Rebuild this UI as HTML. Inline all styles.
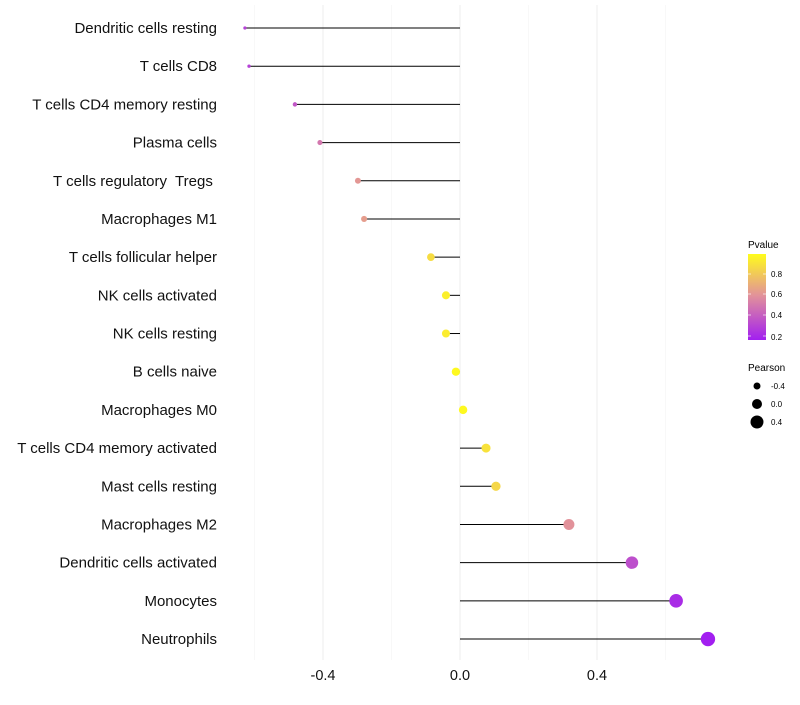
<!DOCTYPE html>
<html><head><meta charset="utf-8"><style>
body{margin:0;background:#fff;font-family:"Liberation Sans",sans-serif}
</style></head><body>
<svg id="chart" width="800" height="700" xmlns="http://www.w3.org/2000/svg" font-family="Liberation Sans, sans-serif">
<g id="grid"></g><g id="marks"></g><g id="labels"></g>
<g>
<text x="748" y="248" font-size="10" fill="#000">Pvalue</text>
<defs><linearGradient id="pg" x1="0" y1="1" x2="0" y2="0">
<stop offset="0" stop-color="#a21ff0"/><stop offset="0.52" stop-color="#e2929a"/><stop offset="1" stop-color="#fffc1c"/></linearGradient></defs>
<rect x="748" y="254" width="18" height="86" fill="url(#pg)"/>
<g stroke="#fff" stroke-width="0.8" opacity="0.8">
<line x1="748" x2="751" y1="274" y2="274"/><line x1="763" x2="766" y1="274" y2="274"/>
<line x1="748" x2="751" y1="294" y2="294"/><line x1="763" x2="766" y1="294" y2="294"/>
<line x1="748" x2="751" y1="315" y2="315"/><line x1="763" x2="766" y1="315" y2="315"/>
<line x1="748" x2="751" y1="336" y2="336"/><line x1="763" x2="766" y1="336" y2="336"/>
</g>
<g font-size="8" fill="#000">
<text x="771" y="277">0.8</text><text x="771" y="297">0.6</text><text x="771" y="318">0.4</text><text x="771" y="340">0.2</text></g>
<text x="748" y="371" font-size="10" fill="#000">Pearson</text>
<circle cx="757" cy="386" r="3.5"/><circle cx="757" cy="404" r="5"/><circle cx="757" cy="422" r="6.5"/>
<g font-size="8"><text x="771" y="389">-0.4</text><text x="771" y="407">0.0</text><text x="771" y="425">0.4</text></g>
</g>
</svg>
<script>
const categories=["Dendritic cells resting","T cells CD8","T cells CD4 memory resting","Plasma cells","T cells regulatory  Tregs ","Macrophages M1","T cells follicular helper","NK cells activated","NK cells resting","B cells naive","Macrophages M0","T cells CD4 memory activated","Mast cells resting","Macrophages M2","Dendritic cells activated","Monocytes","Neutrophils"];
const pearson=[-0.628,-0.616,-0.482,-0.409,-0.298,-0.280,-0.085,-0.041,-0.041,-0.012,0.009,0.076,0.105,0.318,0.502,0.631,0.724];
const pvalue=[0.3,0.3,0.38,0.5,0.62,0.64,0.88,0.95,0.94,0.99,0.99,0.9,0.86,0.6,0.35,0.22,0.17];
const xTicks=[-0.4,0.0,0.4];
const xMinor=[-0.6,-0.2,0.2,0.6];
const NS="http://www.w3.org/2000/svg";
const xs=v=>460+v*342.5;
const ys=i=>28+i*38.19;
function col(p){
  const stops=[[0.17,[162,31,240]],[0.6,[226,146,154]],[1.0,[255,252,28]]];
  p=Math.max(0.17,Math.min(1,p));
  for(let k=0;k<2;k++){const a=stops[k],b=stops[k+1];if(p<=b[0]){const t=(p-a[0])/(b[0]-a[0]);return "rgb("+a[1].map((c,j)=>Math.round(c+(b[1][j]-c)*t)).join(",")+")";}}
  return "rgb(255,252,28)";
}
const rs=v=>1.6+(v+0.63)/1.36*5.6;
function mk(tag,attrs,parent){const e=document.createElementNS(NS,tag);for(const k in attrs)e.setAttribute(k,attrs[k]);document.getElementById(parent).appendChild(e);return e;}
xMinor.forEach(v=>{const l=mk("line",{x1:xs(v),x2:xs(v),y1:5,y2:660,stroke:"#f3f3f3","stroke-width":0.6},"grid");

});
xTicks.forEach(v=>{const l=mk("line",{x1:xs(v),x2:xs(v),y1:5,y2:660,stroke:"#ececec","stroke-width":1},"grid");


const t=mk("text",{x:xs(v),y:680,"font-size":14.5,"text-anchor":"middle",fill:"#111"},"labels");t.textContent=v.toFixed(1);

});
categories.forEach((c,i)=>{const y=ys(i);
const s=mk("line",{x1:xs(0),x2:xs(pearson[i]),y1:y,y2:y,stroke:"#000","stroke-width":1},"marks");


const d=mk("circle",{cx:xs(pearson[i]),cy:y,r:rs(pearson[i]),fill:col(pvalue[i])},"marks");


const t=mk("text",{x:217,y:y+5,"font-size":15,"text-anchor":"end",fill:"#111","xml:space":"preserve"},"labels");
t.setAttribute("style","white-space:pre");
t.textContent=c;

});
</script>
</body></html>
